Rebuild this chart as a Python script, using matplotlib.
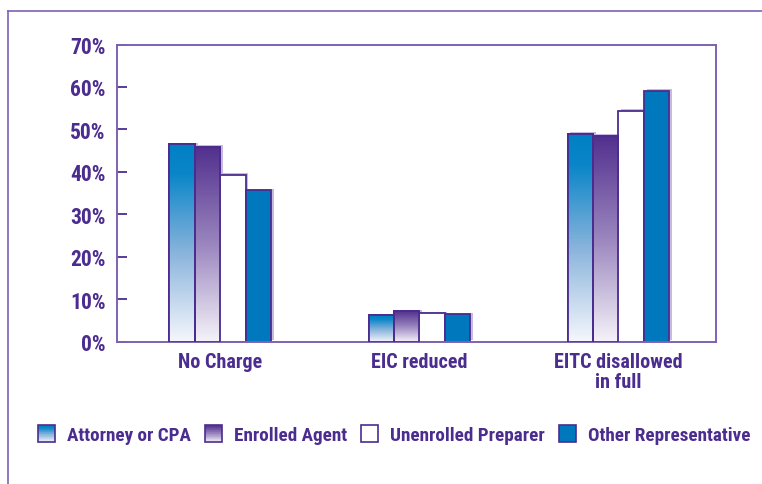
import numpy as np
import matplotlib
matplotlib.use("Agg")
import matplotlib.pyplot as plt
from matplotlib.colors import LinearSegmentedColormap
from matplotlib.patches import Rectangle
from matplotlib.lines import Line2D
from matplotlib.legend_handler import HandlerBase
import matplotlib.patheffects as pe

categories = ["No Charge", "EIC reduced", "EITC disallowed\nin full"]
series = ["Attorney or CPA", "Enrolled Agent", "Unenrolled Preparer", "Other Representative"]
attorney = [46.5, 6.2, 49.0]
enrolled = [45.9, 7.1, 48.5]
unenrolled = [39.3, 6.7, 54.4]
other = [35.6, 6.4, 59.1]
yticks = [0, 10, 20, 30, 40, 50, 60, 70]

PURPLE = "#4b2c8f"
SPINE = "#7d62b3"
SHADOW = "#c7b9e0"
BLUE = "#0078be"

# gradient maps (0 = bottom, 1 = top)
blue_cmap = LinearSegmentedColormap.from_list("b", [(0, "#f5f7fc"), (0.45, "#8ab4dc"), (0.85, "#0a86c8"), (1, "#0080c4")])
purple_cmap = LinearSegmentedColormap.from_list("p", [(0, "#f5f3f9"), (0.5, "#9b86bf"), (1, "#52308e")])

styles = [("grad", blue_cmap), ("grad", purple_cmap), ("flat", "white"), ("flat", BLUE)]

plt.rcParams['font.family'] = ['Roboto Condensed', 'DejaVu Sans']
plt.rcParams['font.stretch'] = 'condensed'
plt.rcParams['font.weight'] = 'bold'

fig = plt.figure(figsize=(7.62, 4.85), dpi=100)
ax = fig.add_axes([117 / 762, 1 - 342.5 / 485, (716 - 117) / 762, (342.5 - 45.5) / 485])

x = np.arange(len(categories))
w = 0.1275
grad = np.linspace(0, 1, 256).reshape(-1, 1)
shadow = [pe.SimplePatchShadow(offset=(2, 1), shadow_rgbFace=SHADOW, alpha=1), pe.Normal()]

for i, vals in enumerate([attorney, enrolled, unenrolled, other]):
    pos = x + (i - 1.5) * w
    kind, c = styles[i]
    face = c if kind == "flat" else "white"
    bars = ax.bar(pos, vals, w, color=face, edgecolor=PURPLE, linewidth=1.3, zorder=2)
    for b in bars:
        b.set_path_effects(shadow)
    if kind == "grad":
        for b in bars:
            bx, by = b.get_x(), b.get_y()
            im = ax.imshow(grad, cmap=c, origin="lower", aspect="auto",
                           extent=[bx, bx + b.get_width(), by, by + b.get_height()], zorder=3)
            im.set_clip_path(b)
        ax.bar(pos, vals, w, color="none", edgecolor=PURPLE, linewidth=1.3, zorder=4)

ax.set_xlim(-0.518, 2.49)
ax.set_ylim(0, 70)
ax.set_yticks(yticks)
ax.set_yticklabels([f"{t}%" for t in yticks], fontsize=15.5, color=PURPLE)
ax.set_xticks(x)
ax.set_xticklabels(categories, fontsize=14.5, color=PURPLE, linespacing=1.05)
ax.tick_params(axis="x", length=0, pad=7.5)
ax.tick_params(axis="y", direction="in", length=7, width=1.3, color=PURPLE, pad=8)
for s in ax.spines.values():
    s.set_color(SPINE)
    s.set_linewidth(1.4)


class GradHandler(HandlerBase):
    def __init__(self, cmap=None, face=None):
        super().__init__()
        self.cmap = cmap
        self.face = face

    def create_artists(self, legend, orig_handle, xd, yd, width, height, fontsize, trans):
        size = 12  # points, about 17 px
        x0 = -xd + (width - size) / 2
        y0 = -yd + (height - size) / 2
        arts = []
        if self.cmap is not None:
            n = 24
            for k in range(n):
                arts.append(Rectangle((x0, y0 + size * k / n), size, size / n + 0.3,
                                      facecolor=self.cmap((k + 0.5) / n), edgecolor="none", transform=trans))
        else:
            arts.append(Rectangle((x0, y0), size, size, facecolor=self.face, edgecolor="none", transform=trans))
        arts.append(Rectangle((x0, y0), size, size, facecolor="none", edgecolor=PURPLE, linewidth=1.2, transform=trans))
        return arts


handles = [Rectangle((0, 0), 1, 1) for _ in series]
handler_map = {handles[0]: GradHandler(cmap=blue_cmap), handles[1]: GradHandler(cmap=purple_cmap),
               handles[2]: GradHandler(face="white"), handles[3]: GradHandler(face=BLUE)}
leg = fig.legend(handles, series, handler_map=handler_map, loc="center", bbox_to_anchor=(0.517, 0.100),
                 ncol=4, frameon=False, fontsize=13.8, handlelength=0.9, handletextpad=0.6,
                 columnspacing=0.75, borderpad=0, borderaxespad=0)
for t in leg.get_texts():
    t.set_color(PURPLE)

# outer frame (left and top only)
fig.add_artist(Line2D([8 / 762, 8 / 762], [0, 1 - 12 / 485], color=SPINE, linewidth=1.2))
fig.add_artist(Line2D([8 / 762, 1], [1 - 12 / 485, 1 - 12 / 485], color=SPINE, linewidth=1.2))

fig.savefig("out.png", dpi=100)
